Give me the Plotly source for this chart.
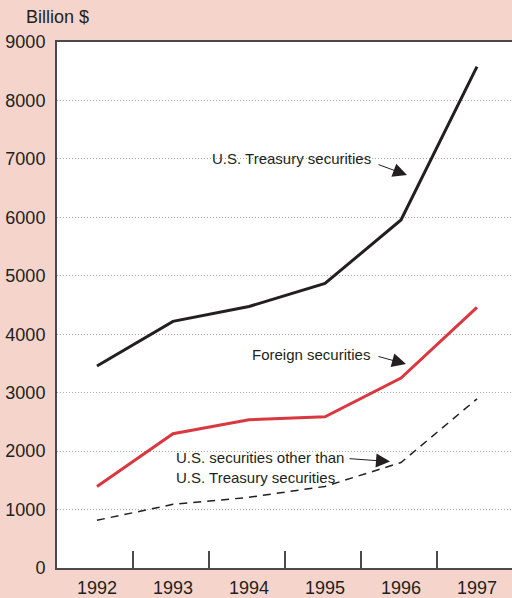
import plotly.graph_objects as go

years = [1992, 1993, 1994, 1995, 1996, 1997]
treasury = [3455, 4220, 4475, 4868, 5955, 8580]
foreign = [1396, 2298, 2536, 2587, 3251, 4460]
other_us = [817, 1089, 1209, 1396, 1804, 2894]
y_ticks = [0, 1000, 2000, 3000, 4000, 5000, 6000, 7000, 8000, 9000]
x_bounds = [1992.5, 1993.5, 1994.5, 1995.5, 1996.5]

FONT = "Liberation Sans, Arial, sans-serif"
BG = "#f5d4cb"
AX = "#4a4a4a"

fig = go.Figure()
fig.add_trace(go.Scatter(x=years, y=treasury, mode="lines",
                         line=dict(color="#231f20", width=3), showlegend=False))
fig.add_trace(go.Scatter(x=years, y=foreign, mode="lines",
                         line=dict(color="#d8383f", width=3), showlegend=False))
fig.add_trace(go.Scatter(x=years, y=other_us, mode="lines",
                         line=dict(color="#231f20", width=1.5, dash="8px,6px"), showlegend=False))

x0 = 1991.474
fig.update_layout(
    width=512, height=598,
    margin=dict(l=57, r=0, t=42, b=27),
    paper_bgcolor=BG, plot_bgcolor="white",
    font=dict(family=FONT, color="#231f20", size=18),
    xaxis=dict(range=[x0, x0 + 455 / 76], tickvals=years,
               ticktext=[str(y) for y in years], ticks="", showgrid=False,
               showline=True, linecolor=AX, linewidth=2, mirror=True,
               zeroline=False, tickfont=dict(size=18), ticklabelstandoff=2,
               minor=dict(tickvals=[b - 0.026 for b in x_bounds], ticks="inside",
                          ticklen=17, tickcolor=AX, tickwidth=1.5, showgrid=False)),
    yaxis=dict(range=[0, 9000], tickvals=y_ticks, showgrid=True,
               gridcolor="#a8a8a8", griddash="1px,2px", gridwidth=1,
               showline=True, linecolor=AX, linewidth=2, zeroline=False,
               ticks="", ticklabelstandoff=6, tickfont=dict(size=18)),
)

ann_font = dict(family=FONT, size=15, color="#231f20")
fig.add_annotation(xref="paper", yref="paper", x=-33 / 455, y=1 + 25 / 529,
                   text="Billion $", showarrow=False, xanchor="left", yanchor="middle",
                   font=dict(family=FONT, size=18, color="#231f20"))

def px2x(p):
    return x0 + (p - 57) / 76

def px2y(p):
    return (570 - p) / 58.75 * 1000

labels = [
    ("U.S. Treasury securities", 210, 158, 407, 175, 377, 164),
    ("Foreign securities", 250, 355, 406, 365, 377, 357),
    ("U.S. securities other than<br>U.S. Treasury securities", 174, 469, 390, 463, 348, 460),
]
for text, tx, ty, hx, hy, sx, sy in labels:
    fig.add_annotation(x=px2x(tx), y=px2y(ty), text=text, showarrow=False,
                       xanchor="left", yanchor="middle", align="left", font=ann_font)
    fig.add_annotation(x=px2x(hx), y=px2y(hy), text="", showarrow=True,
                       ax=sx - hx, ay=sy - hy, arrowhead=2, arrowsize=2.8,
                       arrowwidth=1, arrowcolor="#231f20")

fig.write_html("out.html", config={"displayModeBar": False},
               post_script="document.body.style.margin='0';")
